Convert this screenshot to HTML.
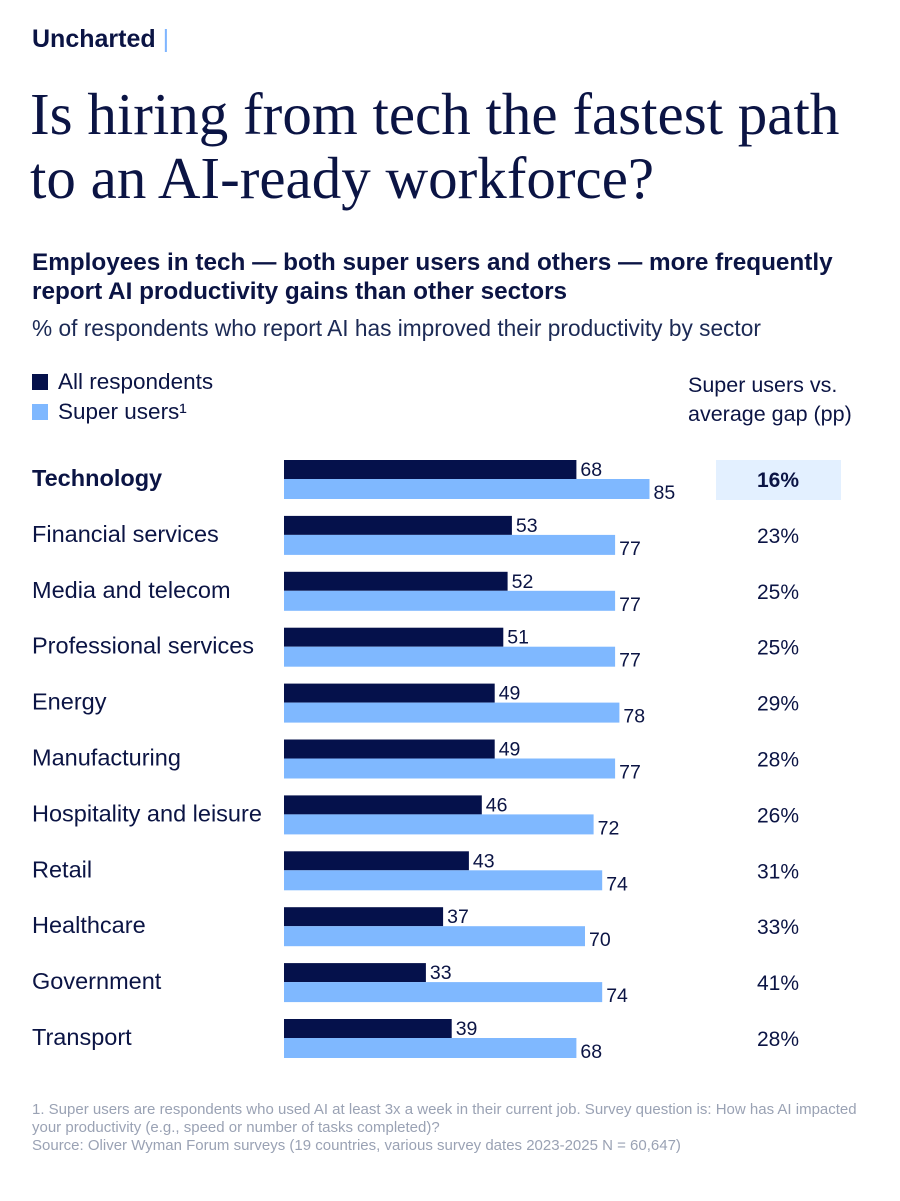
<!DOCTYPE html>
<html><head><meta charset="utf-8">
<style>
body{margin:0;background:#fff;width:900px;height:1201px;overflow:hidden;font-family:"Liberation Sans",sans-serif;color:#0b1444;position:relative}
.a{position:absolute;white-space:nowrap}
</style></head><body>
<div class="a" style="left:32px;top:25px;font-size:25px;font-weight:bold;color:#0b1444">Uncharted <span style="color:#7fb5ff;font-weight:normal">|</span></div>
<div class="a" style="left:30px;top:82px;font-family:'Liberation Serif',serif;font-size:59px;line-height:64px;color:#0b1444">Is hiring from tech the fastest path<br>to an AI-ready workforce?</div>
<div class="a" style="left:32px;top:248px;font-size:24.3px;line-height:29px;font-weight:bold;color:#0b1444">Employees in tech — both super users and others — more frequently<br>report AI productivity gains than other sectors</div>
<div class="a" style="left:32px;top:315px;font-size:22.7px;color:#1c2a55">% of respondents who report AI has improved their productivity by sector</div>
<div class="a" style="left:32px;top:369px;font-size:22.5px"><span style="display:inline-block;width:16px;height:16px;background:#05114b;vertical-align:-1px;margin-right:10px"></span>All respondents</div>
<div class="a" style="left:32px;top:399px;font-size:22.5px"><span style="display:inline-block;width:16px;height:16px;background:#7fb8ff;vertical-align:-1px;margin-right:10px"></span>Super users¹</div>
<div class="a" style="left:688px;top:371px;font-size:21.5px;line-height:29px">Super users vs.<br>average gap (pp)</div>
<svg id="c" class="a" style="left:0;top:0" width="900" height="1201"></svg>
<div class="a" style="left:32px;top:1101px;font-size:15px;line-height:18px;color:#9aa2b4">1. Super users are respondents who used AI at least 3x a week in their current job. Survey question is: How has AI impacted<br>your productivity (e.g., speed or number of tasks completed)?<br>Source: Oliver Wyman Forum surveys (19 countries, various survey dates 2023-2025 N = 60,647)</div>
<script>
const categories=["Technology","Financial services","Media and telecom","Professional services","Energy","Manufacturing","Hospitality and leisure","Retail","Healthcare","Government","Transport"];
const allValues=[68,53,52,51,49,49,46,43,37,33,39];
const superValues=[85,77,77,77,78,77,72,74,70,74,68];
const gapLabels=["16%","23%","25%","25%","29%","28%","26%","31%","33%","41%","28%"];
const svg=document.getElementById('c');const NS='http://www.w3.org/2000/svg';
const x=v=>284+v*4.3;const y=i=>460+i*55.9;
function mk(t,a,txt){const e=document.createElementNS(NS,t);for(const k in a)e.setAttribute(k,a[k]);if(txt!==undefined)e.textContent=txt;svg.appendChild(e);return e;}
const hl=mk('rect',{x:716,y:460,width:125,height:40,fill:'#e3f0ff'});


categories.forEach((c,i)=>{
 const y0=y(i);
 const l=mk('text',{x:32,y:y0+26,'font-size':23.5,fill:'#0b1444','font-weight':i==0?'bold':'normal','font-family':'Liberation Sans'},c);
 
 
 const b1=mk('rect',{x:284,y:y0,width:x(allValues[i])-284,height:19,fill:'#05114b'});
 
 
 const b2=mk('rect',{x:284,y:y0+19,width:x(superValues[i])-284,height:20,fill:'#7fb8ff'});
 
 
 const t1=mk('text',{x:x(allValues[i])+4,y:y0+16,'font-size':19.5,fill:'#0b1444','font-family':'Liberation Sans'},allValues[i]);
 
 
 const t2=mk('text',{x:x(superValues[i])+4,y:y0+39,'font-size':19.5,fill:'#0b1444','font-family':'Liberation Sans'},superValues[i]);
 
 
 const g=mk('text',{x:778,y:y0+27,'font-size':21,'text-anchor':'middle',fill:'#0b1444','font-weight':i==0?'bold':'normal','font-family':'Liberation Sans'},gapLabels[i]);
 
 
});
</script>
</body></html>
